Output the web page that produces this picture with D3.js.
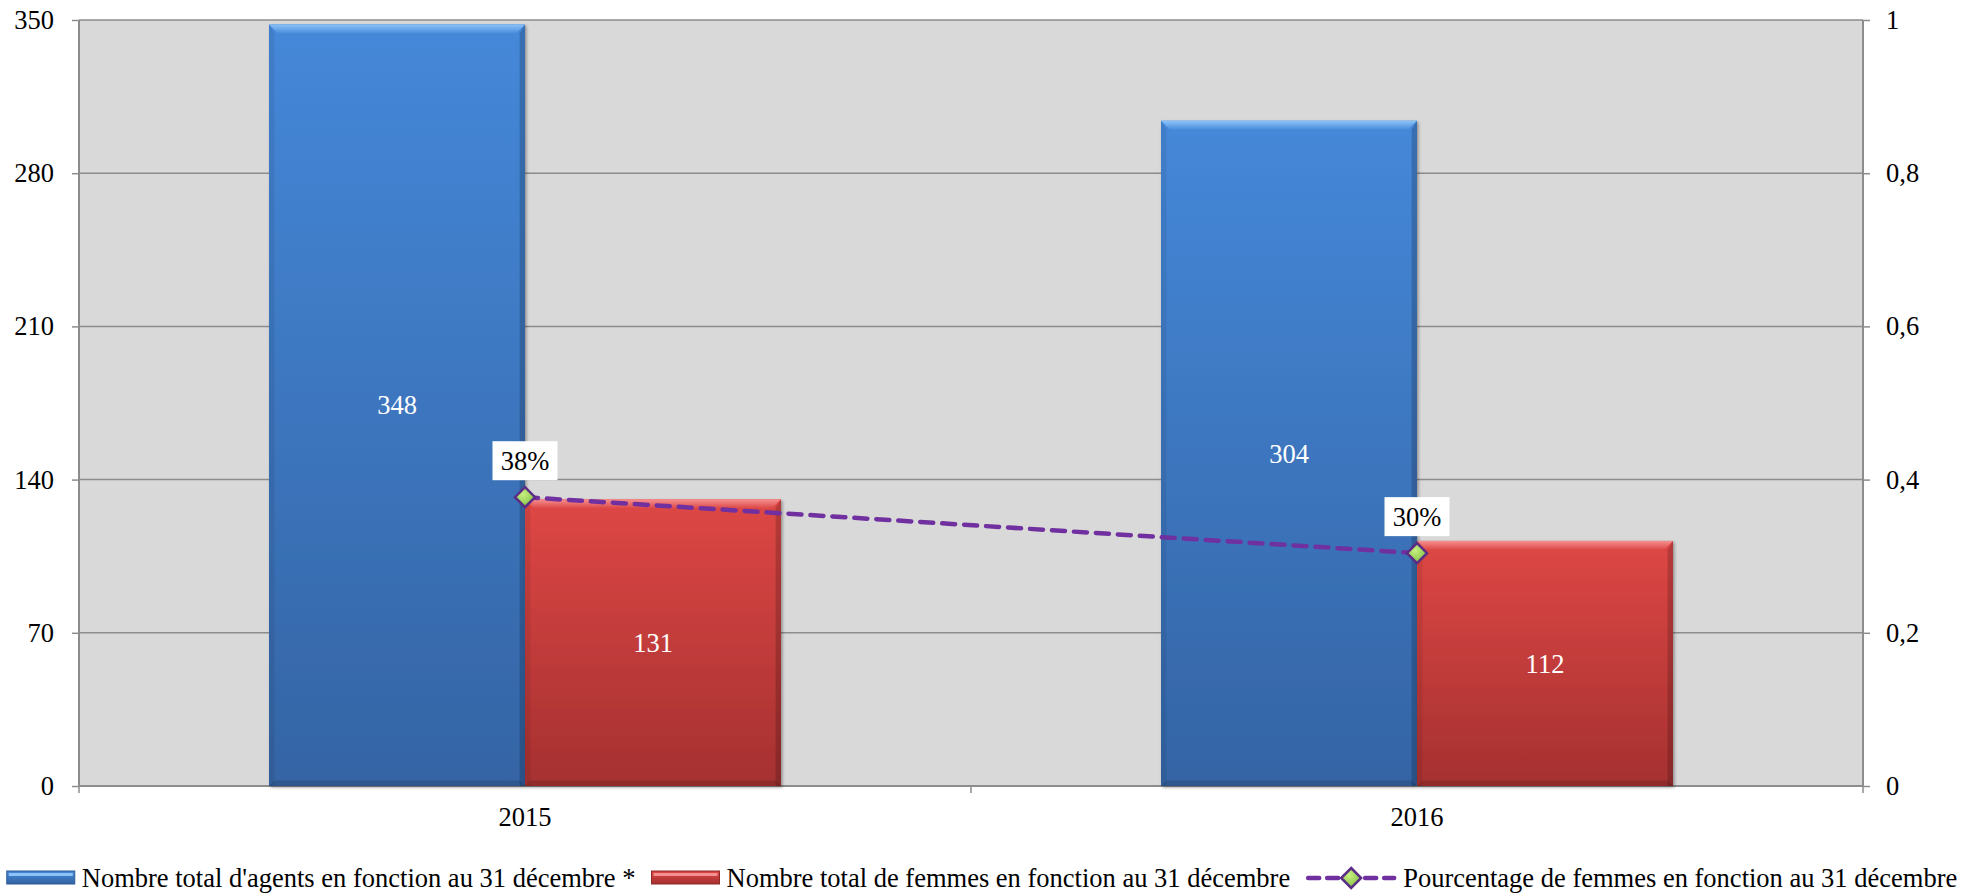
<!DOCTYPE html>
<html><head><meta charset="utf-8">
<script src="https://cdn.jsdelivr.net/npm/d3@7"></script>
<style>
body{margin:0;background:#fff;}
svg text{font-family:"Liberation Serif","Times New Roman",serif;}
</style></head>
<body><svg id="chart" width="1975" height="893"></svg>
<script>
const categories = ["2015", "2016"];
const totalAgents = [348, 304];
const totalFemmes = [131, 112];
const pctFemmes = [0.377, 0.304];
const pctLabels = ["38%", "30%"];
const leftTicks = [0, 70, 140, 210, 280, 350];
const rightTicks = [0, 0.2, 0.4, 0.6, 0.8, 1];
const rightTickLabels = ["0", "0,2", "0,4", "0,6", "0,8", "1"];
const seriesNames = [
  "Nombre total d'agents en fonction au 31 décembre *",
  "Nombre total de femmes en fonction au 31 décembre",
  "Pourcentage de femmes en fonction au 31 décembre"
];

const svg = d3.select("#chart");
const L = 79, R = 1863, T = 20, B = 786;
const FS = 26.5;

const x0 = d3.scaleBand().domain(categories).range([L, R]).paddingInner(0).paddingOuter(0);
const x1 = d3.scaleBand().domain([0, 1]).range([0, x0.bandwidth()]).paddingInner(0).paddingOuter(380 / 512);
const yL = d3.scaleLinear().domain([0, 350]).range([B, T]);
const yR = d3.scaleLinear().domain([0, 1]).range([B, T]);

const defs = svg.append("defs");
function grad(id, stops) {
  const g = defs.append("linearGradient").attr("id", id).attr("x1", 0).attr("y1", 0).attr("x2", 0).attr("y2", 1);
  stops.forEach(s => g.append("stop").attr("offset", s[0]).attr("stop-color", s[1]));
}
grad("gBlue", [[0, "#4588d9"], [1, "#3464a4"]]);
grad("gRed", [[0, "#de4745"], [1, "#a53030"]]);
grad("gBlueTop", [[0, "#8cc4f8"], [1, "#4a8cdc"]]);
grad("gRedTop", [[0, "#f59090"], [1, "#dc4846"]]);
const rg = defs.append("radialGradient").attr("id", "gDiamond").attr("cx", 0.4).attr("cy", 0.35).attr("r", 0.7);
rg.append("stop").attr("offset", 0).attr("stop-color", "#c8f080");
rg.append("stop").attr("offset", 1).attr("stop-color", "#7fc040");
const sh = defs.append("filter").attr("id", "shadow").attr("x", -0.1).attr("y", -0.1).attr("width", 1.2).attr("height", 1.2);
sh.append("feDropShadow").attr("dx", 1.5).attr("dy", 1.5).attr("stdDeviation", 1.5).attr("flood-color", "#000").attr("flood-opacity", 0.35);

// plot background
svg.append("rect").attr("x", L).attr("y", T).attr("width", R - L).attr("height", B - T).attr("fill", "#d9d9d9");

// gridlines
svg.append("g").selectAll("line").data(leftTicks.filter(d => d > 0)).join("line")
  .attr("x1", L).attr("x2", R).attr("y1", d => yL(d)).attr("y2", d => yL(d))
  .attr("stroke", "#8c8c8c").attr("stroke-width", 1.5);

// axes
const axL = svg.append("g").attr("transform", `translate(${L},0)`)
  .call(d3.axisLeft(yL).tickValues(leftTicks).tickSize(7).tickPadding(18).tickFormat(d3.format("d")));
const axR = svg.append("g").attr("transform", `translate(${R},0)`)
  .call(d3.axisRight(yR).tickValues(rightTicks).tickSize(7).tickPadding(16).tickFormat((d, i) => rightTickLabels[i]));
const axB = svg.append("g").attr("transform", `translate(0,${B})`)
  .call(d3.axisBottom(x0).tickSize(0).tickPadding(21));
// category boundary ticks
svg.append("g").selectAll("line").data([L, L + x0.bandwidth(), R]).join("line")
  .attr("x1", d => d).attr("x2", d => d).attr("y1", B).attr("y2", B + 7)
  .attr("stroke", "#8c8c8c").attr("stroke-width", 1.5);
[axL, axR, axB].forEach(a => {
  a.attr("font-family", null);
  a.selectAll("path.domain").attr("stroke", "#8c8c8c").attr("stroke-width", 2);
  a.selectAll(".tick line").attr("stroke", "#8c8c8c").attr("stroke-width", 1.5);
  a.selectAll("text").attr("font-size", FS).attr("fill", "#000").style("font-family", "Liberation Serif, serif");
});
axL.select("path.domain").attr("d", `M0,${T}V${B}`);
axR.select("path.domain").attr("d", `M0,${T}V${B}`);
axB.select("path.domain").attr("d", `M${L},0H${R}`);

// bars
const bars = [];
categories.forEach((c, i) => {
  bars.push({cat: c, s: 0, v: totalAgents[i]});
  bars.push({cat: c, s: 1, v: totalFemmes[i]});
});
const bev = 9;
const gBars = svg.append("g");
bars.forEach(b => {
  const x = x0(b.cat) + x1(b.s), w = x1.bandwidth(), y = yL(b.v), h = B - y;
  const g = gBars.append("g");
  g.append("rect").attr("x", x).attr("y", y).attr("width", w).attr("height", h)
    .attr("fill", b.s === 0 ? "url(#gBlue)" : "url(#gRed)").attr("filter", "url(#shadow)");
  g.append("path").attr("d", `M${x},${y}H${x + w}L${x + w - bev},${y + bev}H${x + bev}Z`)
    .attr("fill", b.s === 0 ? "url(#gBlueTop)" : "url(#gRedTop)");
  g.append("path").attr("d", `M${x + w},${y}V${B}H${x + w - bev * 0.6}V${y + bev}Z`)
    .attr("fill", "#000").attr("opacity", 0.18);
  g.append("path").attr("d", `M${x},${y}V${B}H${x + bev * 0.6}V${y + bev}Z`)
    .attr("fill", "#000").attr("opacity", 0.07);
  g.append("path").attr("d", `M${x},${B}H${x + w}L${x + w - bev * 0.6},${B - bev * 0.6}H${x + bev * 0.6}Z`)
    .attr("fill", "#000").attr("opacity", 0.12);
  g.append("text").attr("x", x + w / 2).attr("y", (y + B) / 2).attr("dy", "0.35em")
    .attr("text-anchor", "middle").attr("font-size", FS).attr("fill", "#fff").text(b.v);
});

// line
const pts = categories.map((c, i) => ({x: x0(c) + x0.bandwidth() / 2, y: yR(pctFemmes[i]), lab: pctLabels[i]}));
svg.append("path").datum(pts)
  .attr("d", d3.line().x(d => d.x).y(d => d.y))
  .attr("fill", "none").attr("stroke", "#7030a0").attr("stroke-width", 4.5)
  .attr("stroke-dasharray", "13,9").attr("stroke-linecap", "round");
const dsz = 10;
function diamond(g, cx, cy) {
  g.append("path").attr("d", `M${cx},${cy - dsz}L${cx + dsz},${cy}L${cx},${cy + dsz}L${cx - dsz},${cy}Z`)
    .attr("fill", "url(#gDiamond)").attr("stroke", "#5b2d86").attr("stroke-width", 2.5);
}
pts.forEach(p => {
  diamond(svg, p.x, p.y);
  const bw = 65, bh = 39;
  svg.append("rect").attr("x", p.x - bw / 2).attr("y", p.y - 17 - bh).attr("width", bw).attr("height", bh).attr("fill", "#fff");
  svg.append("text").attr("x", p.x).attr("y", p.y - 17 - bh / 2).attr("dy", "0.35em")
    .attr("text-anchor", "middle").attr("font-size", FS).attr("fill", "#000").text(p.lab);
});

// legend
const legY = 878;
const leg = svg.append("g");
const items = [];
seriesNames.forEach((n, i) => {
  const g = leg.append("g");
  const sw = i === 2 ? 90 : 68;
  if (i < 2) {
    g.append("rect").attr("x", 0).attr("y", legY - 7).attr("width", sw).attr("height", 13)
      .attr("fill", i === 0 ? "url(#gBlue)" : "url(#gRed)").attr("stroke", i === 0 ? "#2d5a95" : "#8e2a2a").attr("stroke-width", 1);
    g.append("rect").attr("x", 2).attr("y", legY - 5).attr("width", sw - 4).attr("height", 3)
      .attr("fill", i === 0 ? "#8cc4f8" : "#f59090");
  } else {
    g.append("line").attr("x1", 2).attr("x2", sw - 2).attr("y1", legY).attr("y2", legY)
      .attr("stroke", "#7030a0").attr("stroke-width", 4.5).attr("stroke-dasharray", "11,8").attr("stroke-linecap", "round");
    diamond(g, sw / 2, legY);
  }
  const t = g.append("text").attr("x", sw + 7).attr("y", legY).attr("dy", "0.35em")
    .attr("font-size", FS).attr("fill", "#000").text(n);
  const tw = t.node().getComputedTextLength();
  items.push({g, w: sw + 7 + tw});
});
const gap = 16;
const total = d3.sum(items, d => d.w) + gap * (items.length - 1);
let cx = 982 - total / 2;
items.forEach(it => { it.g.attr("transform", `translate(${cx},0)`); cx += it.w + gap; });
</script></body></html>
